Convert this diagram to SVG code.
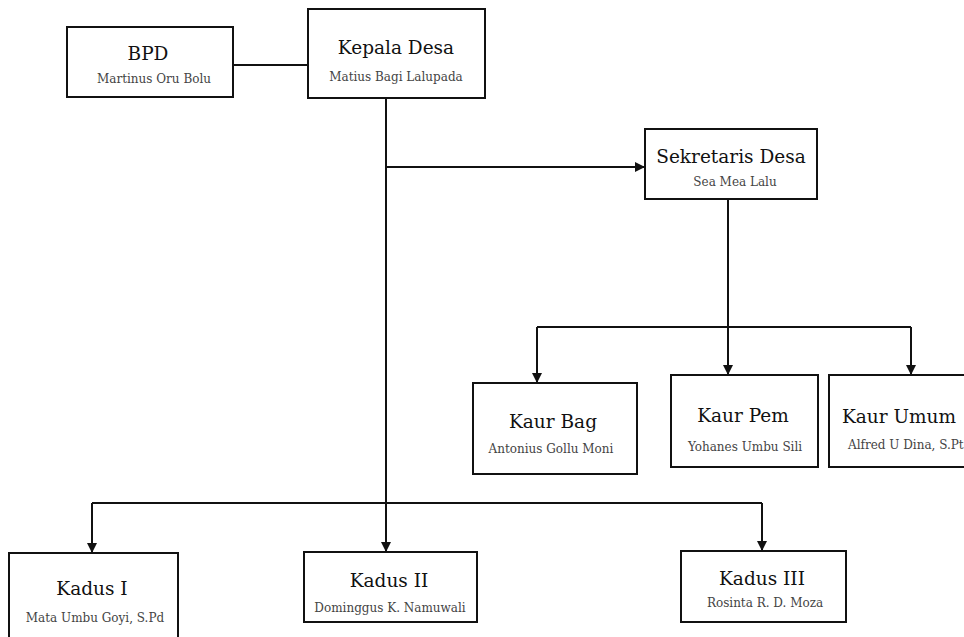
<svg xmlns="http://www.w3.org/2000/svg" width="964" height="637" viewBox="0 0 964 637">
<style>
.box{fill:#fff;stroke:#111;stroke-width:2}
.t{font-family:"DejaVu Serif","Liberation Serif",serif;font-size:18.5px;fill:#111;text-anchor:middle}
.n{font-family:"DejaVu Serif","Liberation Serif",serif;font-size:12px;fill:#444;text-anchor:middle}
.c{fill:none;stroke:#111;stroke-width:2}
</style>
<defs>
<marker id="ah" markerUnits="userSpaceOnUse" markerWidth="10" markerHeight="10" refX="10" refY="5" orient="auto">
<path d="M0,0 L10,5 L0,10 z" fill="#111"/>
</marker>
</defs>
<rect width="964" height="637" fill="#fff"/>
<g id="connectors">
<line class="c" x1="233" y1="65" x2="308" y2="65"/>
<line class="c" x1="386" y1="98" x2="386" y2="503"/>
<line class="c" x1="386" y1="167" x2="645" y2="167" marker-end="url(#ah)"/>
<line class="c" x1="728" y1="199" x2="728" y2="327"/>
<line class="c" x1="537" y1="327" x2="911" y2="327"/>
<line class="c" x1="537" y1="327" x2="537" y2="383" marker-end="url(#ah)"/>
<line class="c" x1="728" y1="327" x2="728" y2="375" marker-end="url(#ah)"/>
<line class="c" x1="911" y1="327" x2="911" y2="375" marker-end="url(#ah)"/>
<line class="c" x1="92" y1="503" x2="762" y2="503"/>
<line class="c" x1="92" y1="503" x2="92" y2="553" marker-end="url(#ah)"/>
<line class="c" x1="386" y1="503" x2="386" y2="552" marker-end="url(#ah)"/>
<line class="c" x1="762" y1="503" x2="762" y2="551" marker-end="url(#ah)"/>
</g>
<g id="bpd">
<rect class="box" x="67" y="27" width="166" height="70"/>
<text class="t" x="148" y="60">BPD</text>
<text class="n" x="154" y="83">Martinus Oru Bolu</text>
</g>
<g id="kepala-desa">
<rect class="box" x="308" y="9" width="177" height="89"/>
<text class="t" x="396" y="54">Kepala Desa</text>
<text class="n" x="396" y="81">Matius Bagi Lalupada</text>
</g>
<g id="sekretaris-desa">
<rect class="box" x="645" y="129" width="172" height="70"/>
<text class="t" x="731" y="163">Sekretaris Desa</text>
<text class="n" x="735" y="186">Sea Mea Lalu</text>
</g>
<g id="kaur-bag">
<rect class="box" x="473" y="383" width="164" height="91"/>
<text class="t" x="553" y="428">Kaur Bag</text>
<text class="n" x="551" y="453">Antonius Gollu Moni</text>
</g>
<g id="kaur-pem">
<rect class="box" x="671" y="375" width="147" height="92"/>
<text class="t" x="743" y="422">Kaur Pem</text>
<text class="n" x="745" y="451">Yohanes Umbu Sili</text>
</g>
<g id="kaur-umum">
<rect class="box" x="829" y="375" width="145" height="92"/>
<text class="t" x="899" y="423">Kaur Umum</text>
<text class="n" x="848" y="449" style="text-anchor:start">Alfred U Dina, S.Pt</text>
</g>
<g id="kadus-i">
<rect class="box" x="9" y="553" width="169" height="94"/>
<text class="t" x="92" y="595">Kadus I</text>
<text class="n" x="95" y="622">Mata Umbu Goyi, S.Pd</text>
</g>
<g id="kadus-ii">
<rect class="box" x="304" y="552" width="173" height="70"/>
<text class="t" x="389" y="587">Kadus II</text>
<text class="n" x="390" y="612">Dominggus K. Namuwali</text>
</g>
<g id="kadus-iii">
<rect class="box" x="681" y="551" width="165" height="71"/>
<text class="t" x="762" y="585">Kadus III</text>
<text class="n" x="765" y="607">Rosinta R. D. Moza</text>
</g>
</svg>
